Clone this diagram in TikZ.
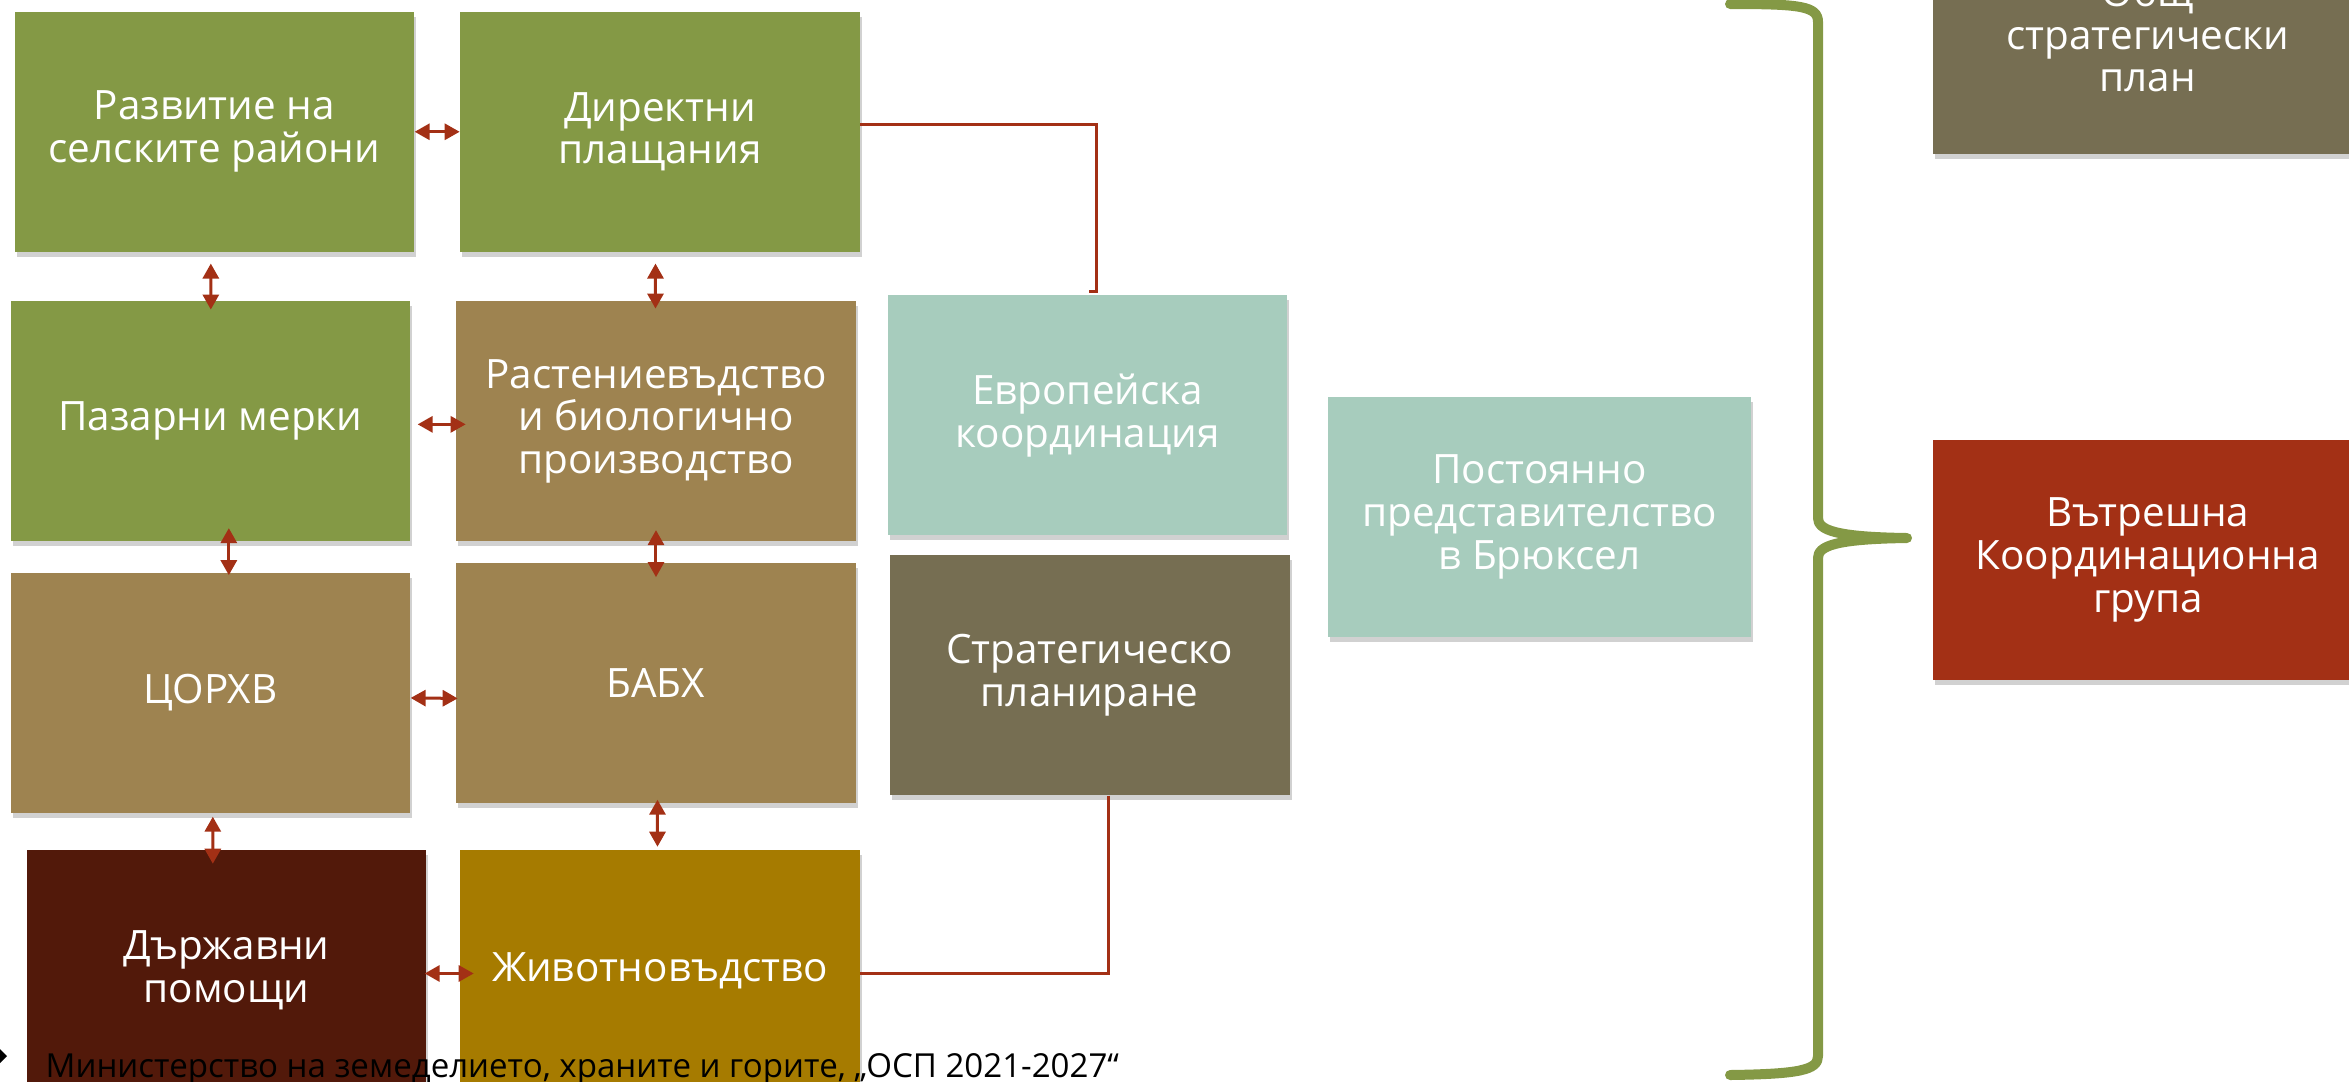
\documentclass[tikz,border=0pt]{standalone}
\usepackage{fontspec}
\setmainfont{Open Sans}
\usetikzlibrary{arrows.meta,positioning,shadows}

\definecolor{boxgreen}{RGB}{132,153,69}
\definecolor{boxtan}{RGB}{158,131,80}
\definecolor{boxteal}{RGB}{167,204,189}
\definecolor{boxtaupe}{RGB}{118,110,82}
\definecolor{boxdark}{RGB}{82,25,10}
\definecolor{boxgold}{RGB}{166,123,0}
\definecolor{boxred}{RGB}{163,48,21}
\definecolor{linkred}{RGB}{163,48,21}

\begin{document}
\begin{tikzpicture}[x=0.01cm, y=-0.01cm, >={Triangle[length=0.15cm,width=0.16cm]},
	box/.style={rectangle, inner sep=0pt, minimum width=3.99cm, minimum height=2.4cm,
		text=white, align=center, font=\fontsize{11.5}{12.2}\selectfont,
		drop shadow={shadow xshift=0.02cm, shadow yshift=-0.05cm, opacity=0.18, fill=black}},
	link/.style={draw=linkred, line width=0.03cm},
	node distance=0.45cm]
	\useasboundingbox (0,0) rectangle (2349,1081);

	% Nodes: left grid
	\node [box, fill=boxgreen, anchor=north west] (a1) at (14,11) {Развитие на\\ селските райони};
	\node [box, fill=boxgreen] (a2) [right=of a1] {Директни\\ плащания};
	\node [box, fill=boxgreen] (a3) [below=0.48cm of a1, xshift=-0.04cm] {Пазарни мерки};
	\node [box, fill=boxtan]   (a4) [right=of a3] {Растениевъдство\\ и биологично\\ производство};
	\node [box, fill=boxtan]   (a5) [below=0.30cm of a3] {ЦОРХВ};
	\node [box, fill=boxtan]   (a6) [below=0.20cm of a4] {БАБХ};
	\node [box, fill=boxdark]  (a7) [below=0.36cm of a5, xshift=0.16cm] {Държавни\\ помощи};
	\node [box, fill=boxgold]  (a8) [right=0.33cm of a7] {Животновъдство};

	% Nodes: coordination
	\node [box, fill=boxteal]  (e1) [right=0.31cm of a4, yshift=0.06cm] {Европейска\\ координация};
	\node [box, fill=boxtaupe, minimum width=4cm] (s1) [below=0.18cm of e1, xshift=0.02cm] {Стратегическо\\ планиране};
	\node [box, fill=boxteal, minimum width=4.23cm] (b1) at (1539.5,517) {Постоянно\\ представителство\\ в Брюксел};
	\node [box, fill=boxtaupe, minimum width=4.3cm, anchor=north west] (o1) at (1932,-87) {Общ\\ стратегически\\ план};
	\node [box, fill=boxred, minimum width=4.3cm, anchor=north west] (v1) at (1932,439) {Вътрешна\\ Координационна\\ група};

	% Paths: two-way arrows in the grid
	\draw [link, <->] (a1.east) -- (a2.west);
	\draw [link, <->] ([xshift=-0.035cm,yshift=-0.11cm]a1.south) -- ([xshift=0.005cm,yshift=-0.09cm]a3.north);
	\draw [link, <->] ([xshift=-0.045cm,yshift=-0.11cm]a2.south) -- ([xshift=-0.005cm,yshift=-0.08cm]a4.north);
	\draw [link, <->] ([xshift=0.07cm,yshift=-0.03cm]a3.east) -- ([xshift=0.10cm,yshift=-0.03cm]a4.west);
	\draw [link, <->] ([xshift=0.185cm,yshift=0.14cm]a3.south) -- ([xshift=0.185cm,yshift=-0.03cm]a5.north);
	\draw [link, <->] ([yshift=0.12cm]a4.south) -- ([yshift=-0.15cm]a6.north);
	\draw [link, <->] ([yshift=-0.05cm]a5.east) -- ([xshift=0.02cm,yshift=-0.155cm]a6.west);
	\draw [link, <->] ([xshift=0.025cm,yshift=-0.03cm]a5.south) -- ([xshift=-0.135cm,yshift=-0.14cm]a7.north);
	\draw [link, <->] ([xshift=0.015cm,yshift=0.04cm]a6.south) -- ([xshift=-0.025cm,yshift=0.03cm]a8.north);
	\draw [link, <->] ([xshift=-0.02cm,yshift=-0.03cm]a7.east) -- ([xshift=0.14cm,yshift=-0.03cm]a8.west);

	% Paths: elbow lines
	\draw [link] ([yshift=0.07cm]a2.east) -| ([xshift=0.085cm,yshift=0.03cm]e1.north) -- ++(-7,0);
	\draw [link] ([xshift=0.19cm]s1.south) |- ([yshift=-0.03cm]a8.east);

	% Brace
	\draw [boxgreen, line width=0.1cm, line cap=round, line join=round]
		(1730,4) .. controls (1800,4) and (1818,6) .. (1818,22) -- (1818,518)
		.. controls (1818,530) and (1835,537) .. (1907,538)
		.. controls (1835,539) and (1818,546) .. (1818,558) -- (1818,1056)
		.. controls (1818,1070) and (1800,1074) .. (1730,1075);

	% Source line
	\fill (0,1049) -- (7,1056) -- (0,1063) -- cycle;
	\node (src) [anchor=base west, inner sep=0pt, font=\fontsize{9.4}{10}\selectfont] at (45,1077)
		{Министерство на земеделието, храните и горите, „ОСП 2021-2027“};
\end{tikzpicture}
\end{document}
